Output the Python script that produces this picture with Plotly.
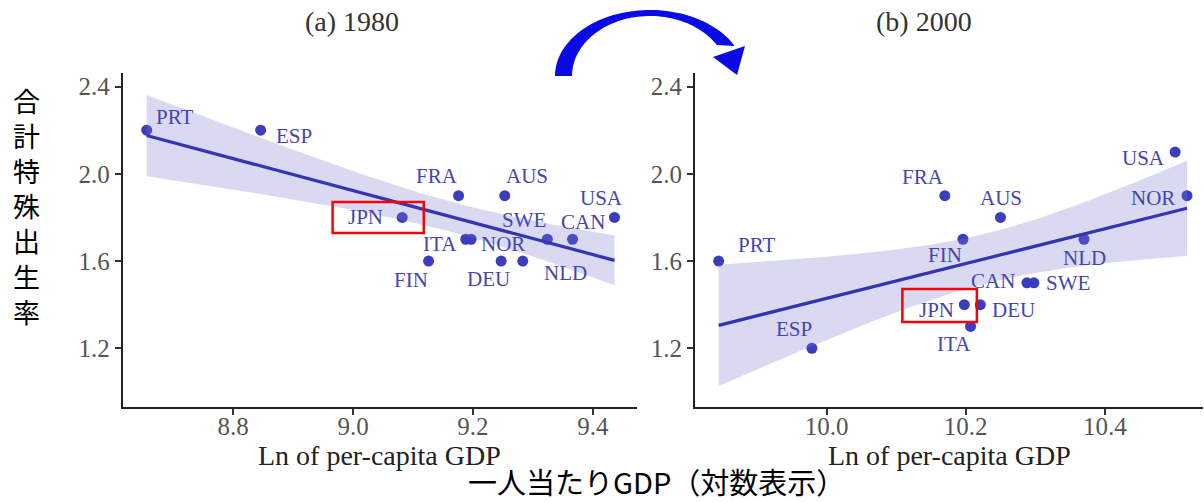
import numpy as np
import plotly.graph_objects as go

# ---------------- data ----------------
countries_1980 = ["PRT", "ESP", "JPN", "FRA", "AUS", "ITA", "NOR", "FIN", "DEU", "NLD", "SWE", "CAN", "USA"]
gdp_1980 = [8.656, 8.846, 9.082, 9.176, 9.253, 9.188, 9.197, 9.126, 9.247, 9.283, 9.324, 9.366, 9.436]
tfr_1980 = [2.2, 2.2, 1.8, 1.9, 1.9, 1.7, 1.7, 1.6, 1.6, 1.6, 1.7, 1.7, 1.8]

countries_2000 = ["PRT", "ESP", "FRA", "FIN", "AUS", "JPN", "DEU", "ITA", "CAN", "SWE", "NLD", "USA", "NOR"]
gdp_2000 = [9.845, 9.979, 10.170, 10.196, 10.250, 10.198, 10.221, 10.207, 10.288, 10.298, 10.370, 10.501, 10.518]
tfr_2000 = [1.6, 1.2, 1.9, 1.7, 1.8, 1.4, 1.4, 1.3, 1.5, 1.5, 1.7, 2.1, 1.9]

x_ticks_1980 = [8.8, 9.0, 9.2, 9.4]
x_ticks_2000 = [10.0, 10.2, 10.4]
y_ticks = [1.2, 1.6, 2.0, 2.4]

panel_titles = ["(a) 1980", "(b) 2000"]
x_title = "Ln of per-capita GDP"
y_title_jp = "合計特殊出生率"
x_title_jp = "一人当たりGDP（対数表示）"

# ---------------- label placement (pixels: dx right, dy down) ----------------
label_off_1980 = {"PRT": (28, -13), "ESP": (33, 6), "JPN": (-37, 0), "FRA": (-22, -20), "AUS": (22, -20),
                  "ITA": (-26, 5), "NOR": (32, 5), "FIN": (-18, 19), "DEU": (-13, 18), "NLD": (43, 12),
                  "SWE": (-23, -19), "CAN": (10, -17), "USA": (-13, -19)}
label_off_2000 = {"PRT": (38, -16), "ESP": (-18, -19), "FRA": (-22, -19), "AUS": (0, -19), "FIN": (-18, 16),
                  "JPN": (-28, 5), "DEU": (33, 5), "ITA": (-17, 18), "CAN": (-34, -2), "SWE": (34, 0),
                  "NLD": (0, 19), "USA": (-32, 6), "NOR": (-34, 2)}

POINT_COLOR = "#3c3cbf"
LINE_COLOR = "#3535b3"
BAND_COLOR = "rgba(120,120,210,0.28)"
LABEL_COLOR = "#4545b0"
SERIF = "Liberation Serif, Times New Roman, serif"
CJK = "Noto Sans CJK JP, sans-serif"
T_CRIT_90 = 1.7959  # t(0.95, df=11): 90% confidence band

W, H = 1204, 502


def px(x):
    return x / W


def py(y):
    return (H - y) / H


def fit_band(x, y, n_grid=100):
    x = np.asarray(x, float)
    y = np.asarray(y, float)
    n = len(x)
    b, a = np.polyfit(x, y, 1)
    res = y - (a + b * x)
    s = np.sqrt(np.sum(res ** 2) / (n - 2))
    sxx = np.sum((x - x.mean()) ** 2)
    xs = np.linspace(x.min(), x.max(), n_grid)
    yhat = a + b * xs
    se = s * np.sqrt(1.0 / n + (xs - x.mean()) ** 2 / sxx)
    return xs, yhat, yhat - T_CRIT_90 * se, yhat + T_CRIT_90 * se


fig = go.Figure()

panels = [
    (countries_1980, gdp_1980, tfr_1980, "x", "y", label_off_1980),
    (countries_2000, gdp_2000, tfr_2000, "x2", "y2", label_off_2000),
]

annotations = []
for names, gx, ty, xa, ya, offs in panels:
    # points (drawn first so the band tints those inside it)
    fig.add_trace(go.Scatter(x=gx, y=ty, mode="markers", xaxis=xa, yaxis=ya,
                             marker=dict(size=11, color=POINT_COLOR), showlegend=False,
                             hoverinfo="skip"))
    xs, yhat, lo, hi = fit_band(gx, ty)
    fig.add_trace(go.Scatter(x=np.concatenate([xs, xs[::-1]]), y=np.concatenate([hi, lo[::-1]]),
                             mode="lines", fill="toself", fillcolor=BAND_COLOR,
                             line=dict(width=0), xaxis=xa, yaxis=ya, showlegend=False,
                             hoverinfo="skip"))
    fig.add_trace(go.Scatter(x=xs, y=yhat, mode="lines", line=dict(color=LINE_COLOR, width=3.2),
                             xaxis=xa, yaxis=ya, showlegend=False, hoverinfo="skip"))
    for nm, xv, yv in zip(names, gx, ty):
        dx, dy = offs[nm]
        annotations.append(dict(x=xv, y=yv, xref=xa, yref=ya, text=nm, showarrow=False,
                                xanchor="center", yanchor="middle",
                                xshift=dx, yshift=-dy,
                                font=dict(family=SERIF, size=21, color=LABEL_COLOR)))


def paper_text(xp, yp, text, font):
    return dict(x=px(xp), y=py(yp), xref="paper", yref="paper", text=text, showarrow=False,
                xanchor="center", yanchor="middle", font=font)


title_font = dict(family=SERIF, size=28, color="#333333")
axis_title_font = dict(family=SERIF, size=28, color="#222222")
cjk_font_y = dict(family=CJK, size=27, color="#000000")
cjk_font_x = dict(family=CJK, size=29, color="#000000")

annotations.append(paper_text(352, 22, panel_titles[0], title_font))
annotations.append(paper_text(924, 22, panel_titles[1], title_font))
annotations.append(paper_text(379, 455, x_title, axis_title_font))
annotations.append(paper_text(949, 455, x_title, axis_title_font))
# vertical Japanese title, one character per line
annotations.append(paper_text(26, 206, "<br>".join(list(y_title_jp)), cjk_font_y))
annotations.append(paper_text(656, 481, x_title_jp, cjk_font_x))

# ---------------- curved arrow (decoration) ----------------
cx, cy = 650.0, 76.0
t_out = np.radians(np.linspace(180, 27, 60))
t_in = np.radians(np.linspace(31, 180, 60))
outer = [(cx + 95 * np.cos(t), cy - 66 * np.sin(t)) for t in t_out]
inner = [(cx + 78 * np.cos(t), cy - 60 * np.sin(t)) for t in t_in]
body = outer + inner
path = "M " + " L ".join(f"{px(a):.5f},{py(b):.5f}" for a, b in body) + " Z"
head = [(713, 57), (745, 46), (737, 75)]
path_head = "M " + " L ".join(f"{px(a):.5f},{py(b):.5f}" for a, b in head) + " Z"

shapes = [
    dict(type="path", path=path, xref="paper", yref="paper", fillcolor="#0a0ae6",
         line=dict(width=0), layer="above"),
    dict(type="path", path=path_head, xref="paper", yref="paper", fillcolor="#0a0ae6",
         line=dict(width=0), layer="above"),
    # red highlight boxes around JPN
    dict(type="rect", xref="x", yref="y", x0=8.966, x1=9.118, y0=1.729, y1=1.871,
         line=dict(color="#ff0000", width=2.5), layer="above"),
    dict(type="rect", xref="x2", yref="y2", x0=10.109, x1=10.216, y0=1.321, y1=1.472,
         line=dict(color="#ff0000", width=2.5), layer="above"),
]

axis_common = dict(showline=True, linecolor="#222222", linewidth=2, ticks="outside", ticklen=6,
                   tickwidth=1.5, tickcolor="#333333", showgrid=False, zeroline=False,
                   tickfont=dict(family=SERIF, size=25, color="#555555"), automargin=False,
                   fixedrange=True)

y_dom = [py(406.7), py(73.3)]
fig.update_layout(
    width=W, height=H, margin=dict(l=0, r=0, t=0, b=0),
    paper_bgcolor="white", plot_bgcolor="white", template="none", showlegend=False,
    xaxis=dict(domain=[px(122.7), px(636.7)], range=[8.616, 9.473], tickvals=x_ticks_1980,
               tickformat=".1f", anchor="y", ticklabelstandoff=-10, **axis_common),
    yaxis=dict(domain=y_dom, range=[0.932, 2.461], tickvals=y_ticks, tickformat=".1f",
               anchor="x", **axis_common),
    xaxis2=dict(domain=[px(695), px(1203)], range=[9.811, 10.541], tickvals=x_ticks_2000,
                tickformat=".1f", anchor="y2", ticklabelstandoff=-10, **axis_common),
    yaxis2=dict(domain=y_dom, range=[0.932, 2.461], tickvals=y_ticks, tickformat=".1f",
                anchor="x2", **axis_common),
    annotations=annotations, shapes=shapes,
)

fig.write_html("out.html", config={"displayModeBar": False},
               post_script="document.body.style.margin='0px';document.body.style.overflow='hidden';")
